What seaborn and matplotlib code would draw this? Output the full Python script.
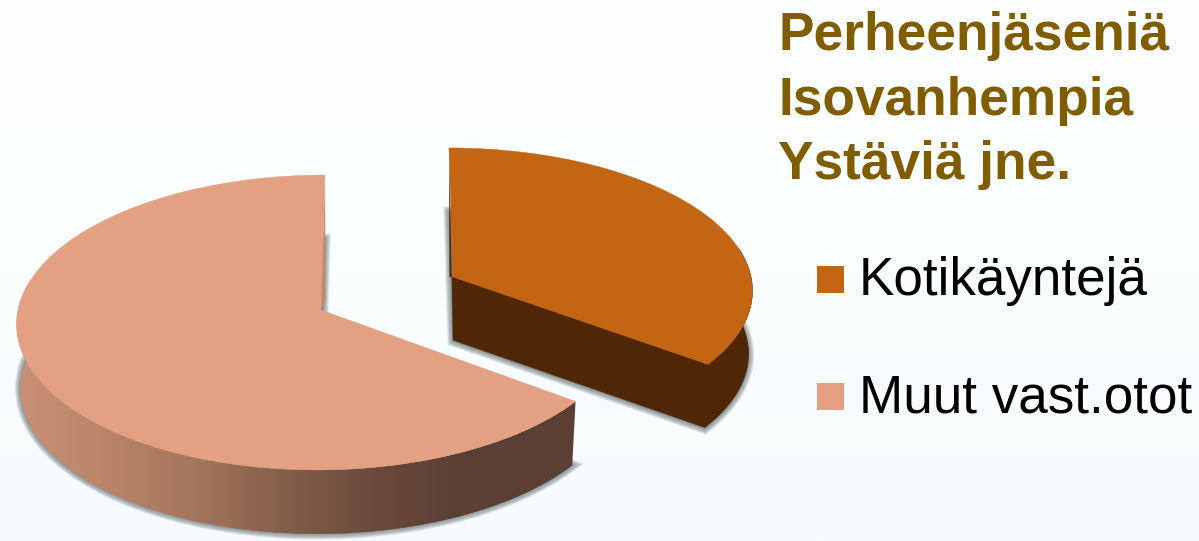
import numpy as np
import matplotlib
matplotlib.use("Agg")
import matplotlib.pyplot as plt
import matplotlib.transforms as mtransforms
from matplotlib.colors import LinearSegmentedColormap
from matplotlib.patches import Polygon, Rectangle
import seaborn as sns

categories = ["Kotikäyntejä", "Muut vast.otot"]
values = [35.1, 64.9]
title_lines = ["Perheenjäseniä", "Isovanhempia", "Ystäviä jne."]
slice_colors = ["#C46514", "#E4A083"]
wall_color = "#4F2707"
title_color = "#7F5D00"

sns.set_theme(style="white")
plt.rcParams["font.family"] = ["Liberation Sans", "DejaVu Sans"]


class Persp(mtransforms.Transform):
    """Tilted-disc projection from the unit pie to pixel space."""
    input_dims = 2
    output_dims = 2

    def __init__(self, x0, y0, r, s, skew, k=0.0847, depth=0.0, shrink=1.0):
        super().__init__()
        self.p = (x0, y0, r, s, skew, k, depth, shrink)

    def transform_non_affine(self, xy):
        x0, y0, r, s, skew, k, depth, shrink = self.p
        xy = np.asarray(xy, dtype=float)
        w = 1 + k * xy[:, 1]
        X = x0 + shrink * (r * xy[:, 0] / w + skew * xy[:, 1])
        Y = y0 - s * xy[:, 1] / w + depth
        return np.column_stack([X, Y])


fig = plt.figure(figsize=(11.99, 5.41), dpi=100)
ax = fig.add_axes([0, 0, 1, 1])

DEPTH = 63
SHRINK = 0.987
geom = [
    dict(x0=453, y0=277, r=298, s=140, skew=-4),
    dict(x0=321, y0=310, r=303, s=146.4, skew=4),
]
shadow_start = [233, 266]


def draw_pie(**kw):
    return ax.pie(values, colors=slice_colors, startangle=90,
                  counterclock=False, **kw)[0]


def unit(theta):
    t = np.radians(theta)
    return np.column_stack([np.cos(t), np.sin(t)])


# background
bg = LinearSegmentedColormap.from_list("bg", ["#FDFEFE", "#FBFEFF", "#F8FBFD"])
ax.imshow(np.linspace(0, 1, 256)[:, None], cmap=bg, extent=(0, 1199, 541, 0),
          aspect="auto", zorder=0)

# soft shadows: bottom face of each slice, stroked with growing widths
for lw_px in (11, 9, 7, 5, 3, 1):
    for w, g, ys in zip(draw_pie(), geom, shadow_start):
        w.set_transform(Persp(**g, depth=DEPTH + 1, shrink=SHRINK) + ax.transData)
        w.set_facecolor("#6F7C7C")
        w.set_edgecolor("#6F7C7C")
        w.set_linewidth(lw_px * 0.72)
        w.set_alpha(0.2)
        w.set_zorder(1)
        w.set_clip_path(Rectangle((0, ys), 1199, 541 - ys, transform=ax.transData))

top = draw_pie()

# orange wall
w0, w1 = top
g0 = geom[0]
T0 = Persp(**g0)
B0 = Persp(**g0, depth=DEPTH, shrink=SHRINK)
arc0 = unit(np.linspace(w0.theta1, 12, 60))
pts = np.vstack([T0.transform_non_affine(np.zeros((1, 2))),
                 B0.transform_non_affine(np.zeros((1, 2))),
                 B0.transform_non_affine(arc0),
                 T0.transform_non_affine(arc0[::-1])])
ax.add_patch(Polygon(pts, closed=True, fc=wall_color, ec=wall_color, lw=0.4, zorder=2))

# inner slivers on the vertical cut edges
apex0 = T0.transform_non_affine(np.zeros((1, 2)))[0]
tip0 = T0.transform_non_affine(np.array([[0.0, 1.0]]))[0]
ax.add_patch(Polygon([tip0, apex0 + [0, DEPTH], apex0, apex0 + [-3.5, 0]],
                     closed=True, fc=wall_color, ec="none", zorder=2))

g1 = geom[1]
T1 = Persp(**g1)
B1 = Persp(**g1, depth=DEPTH + 1, shrink=SHRINK)
apex1 = T1.transform_non_affine(np.zeros((1, 2)))[0]
tip1 = T1.transform_non_affine(np.array([[0.0, 1.0]]))[0]
ax.add_patch(Polygon([tip1, apex1 + [4.5, -8], apex1], closed=True,
                     fc="#C08A70", ec="none", zorder=2.5))

# salmon wall with horizontal shading
arc1 = unit(np.linspace(170, 360 + w1.theta2, 160))
pts1 = np.vstack([T1.transform_non_affine(arc1), B1.transform_non_affine(arc1[::-1])])
stops = [(10, "#CB9176"), (100, "#BC8569"), (200, "#A3745C"), (300, "#7F5A47"),
         (400, "#654639"), (470, "#5C3F34"), (580, "#5C3F34")]
span = stops[-1][0] - stops[0][0]
cm = LinearSegmentedColormap.from_list(
    "wall", [((x - stops[0][0]) / span, c) for x, c in stops])
clip = Polygon(pts1, closed=True, transform=ax.transData)
im = ax.imshow(np.linspace(0, 1, 512)[None, :], cmap=cm, aspect="auto",
               extent=(stops[0][0], stops[-1][0], 541, 0), zorder=2)
im.set_clip_path(clip)

# top faces
for w, g in zip(top, geom):
    w.set_transform(Persp(**g) + ax.transData)
    w.set_zorder(3)
    w.set_edgecolor(w.get_facecolor())
    w.set_linewidth(0.3)

for line, y in zip(title_lines, (50, 114.5, 178.5)):
    ax.text(778, y, line, color=title_color, fontsize=38.3, fontweight="bold",
            ha="left", va="baseline", zorder=5)

leg = ax.legend(top, categories, loc="upper left", bbox_to_anchor=(817, 256),
                bbox_transform=ax.transData, frameon=False, fontsize=38.2,
                handlelength=0.52, handleheight=0.52, handletextpad=0.27,
                labelspacing=1.27, borderpad=0, borderaxespad=0, labelcolor="black")
for h in leg.legend_handles:
    h.set_linewidth(0)
    h.set_y(1.44)
    h.set_width(19.4)
    h.set_height(19.4)

ax.set_aspect("auto")
ax.set_xlim(0, 1199)
ax.set_ylim(541, 0)
ax.axis("off")
fig.savefig("out.png", dpi=100)
